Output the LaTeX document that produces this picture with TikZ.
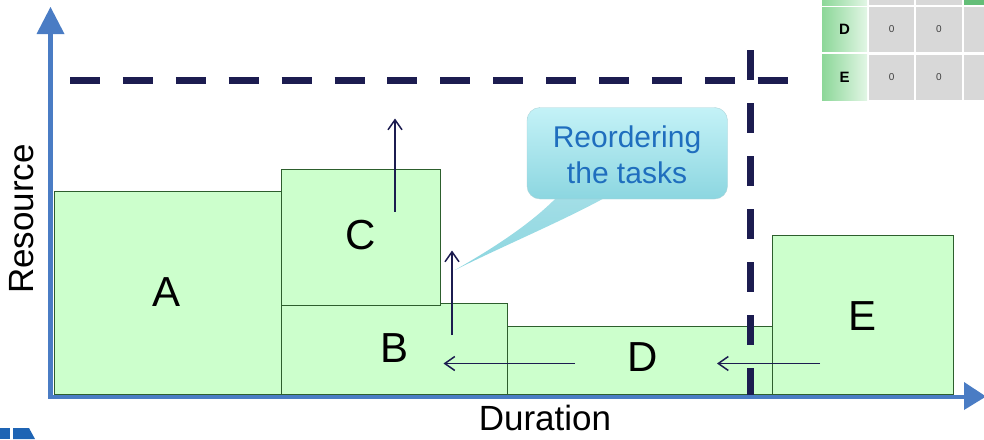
\documentclass[tikz,border=0pt]{standalone}
\usepackage{fontspec}
\setmainfont{Liberation Sans}
\usetikzlibrary{arrows.meta}
\definecolor{axisblue}{RGB}{74,124,196}
\definecolor{navy}{RGB}{28,28,80}
\definecolor{taskfill}{RGB}{204,255,204}
\definecolor{taskline}{RGB}{45,95,45}
\definecolor{calltext}{RGB}{31,110,190}
\definecolor{calltop}{RGB}{196,242,247}
\definecolor{callbot}{RGB}{140,214,224}
\definecolor{cellgray}{RGB}{216,216,216}
\definecolor{hdrgreen}{RGB}{100,190,120}
\definecolor{lblleft}{RGB}{140,215,152}
\definecolor{lblright}{RGB}{226,246,229}
\definecolor{logoblue}{RGB}{30,100,180}
\begin{document}
\begin{tikzpicture}[x=1pt,y=-1pt,
  task/.style={fill=taskfill,draw=taskline,line width=1pt},
  tasklabel/.style={inner sep=0pt,font=\fontsize{42}{42}\selectfont},
  axislabel/.style={inner sep=0pt,font=\fontsize{35}{35}\selectfont},
  limitline/.style={draw=navy,line width=7pt,dash pattern=on 30pt off 22.9pt},
  move/.style={draw=navy,line width=1.5pt,-{Straight Barb[length=10pt,width=14pt]}},
  labelcell/.style={left color=lblleft,right color=lblright},
  valcell/.style={fill=cellgray},
  rowhead/.style={inner sep=0pt,font=\fontsize{15}{15}\selectfont\bfseries},
  cellval/.style={inner sep=0pt,font=\fontsize{10}{10}\selectfont,text=black!75}]
\useasboundingbox (0,0) rectangle (984,439);

% task blocks
\path[task] (54,191) rectangle (281.5,394);
\path[task] (281.5,303.5) rectangle (507.5,394);
\path[task] (507.5,326.5) rectangle (772.5,394);
\path[task] (772.5,235.5) rectangle (953,394);
\path[task] (281.5,169.5) rectangle (440,305);

\node[tasklabel] (labA) at (167,292) {A};
\node[tasklabel] (labB) at (395,348) {B};
\node[tasklabel] (labC) at (361,235) {C};
\node[tasklabel] (labD) at (643,357) {D};
\node[tasklabel] (labE) at (862,316) {E};

% resource and deadline limits
\coordinate (limL) at (70,80.5);
\coordinate (limR) at (788,80.5);
\coordinate (dlT) at (750.5,50);
\coordinate (dlB) at (750.5,398);
\path[limitline] (limL) -- (limR);
\path[limitline,dash pattern=on 30pt off 23pt] (dlT) -- (dlB);

% axes
\coordinate (orig) at (50.5,398);
\coordinate (ytip) at (50.5,7);
\coordinate (xtip) at (986,396.5);
\draw[axisblue,line width=5pt] (50.5,398) -- (50.5,30);
\fill[axisblue] (ytip) -- (64.5,34) -- (36.5,34) -- cycle;
\draw[axisblue,line width=4pt] (48,396.5) -- (966,396.5);
\fill[axisblue] (xtip) -- (964,382) -- (964,410) -- cycle;

\node[axislabel,rotate=90] (ylab) at (22,219) {Resource};
\node[axislabel] (xlab) at (545,417.5) {Duration};

% moves of the tasks
\coordinate (c0) at (395,211.5);
\coordinate (c1) at (395,118.5);
\coordinate (b0) at (452,335);
\coordinate (b1) at (452,250.5);
\coordinate (d0) at (575,363.5);
\coordinate (d1) at (443.5,363.5);
\coordinate (e0) at (820,363.5);
\coordinate (e1) at (717,363.5);
\path[move] (c0) -- (c1);
\path[move] (b0) -- (b1);
\path[move] (d0) -- (d1);
\path[move] (e0) -- (e1);

% callout
\coordinate (tail) at (455,270);
\shade[top color=callbot!80,bottom color=callbot] (558,196) .. controls (530,225) and (490,250) .. (tail)
  .. controls (505,245) and (565,220) .. (608,196) -- cycle;
\shade[top color=calltop,bottom color=callbot,rounded corners=13pt,draw=callbot!85!black!60,line width=0.4pt]
  (527,107.5) rectangle (727.5,199);
\node[inner sep=0pt,align=center,text=calltext,font=\fontsize{30}{36}\selectfont] (note) at (627,155) {Reordering\\the tasks};

% task table corner
\begin{scope}
\clip (810,0) rectangle (984,105);
\path[labelcell] (822,-40) rectangle (867,5);
\path[valcell] (869.3,-40) rectangle (914,5);
\path[valcell] (916,-40) rectangle (962,5);
\path[fill=hdrgreen] (964,-40) rectangle (1010,5);
\path[labelcell] (822,7.3) rectangle (867,51.7);
\path[valcell] (869.3,7.3) rectangle (914,51.7);
\path[valcell] (916,7.3) rectangle (962,51.7);
\path[valcell] (964,7.3) rectangle (1010,51.7);
\path[labelcell] (822,54.7) rectangle (867,100);
\path[valcell] (869.3,54.7) rectangle (914,100);
\path[valcell] (916,54.7) rectangle (962,100);
\path[valcell] (964,54.7) rectangle (1010,100);
\node[rowhead] (rD) at (844.5,29.5) {D};
\node[rowhead] (rE) at (844.5,77.3) {E};
\node[cellval] (d1v) at (891.6,29.5) {0};
\node[cellval] (d2v) at (939,29.5) {0};
\node[cellval] (d3v) at (987,29.5) {0};
\node[cellval] (e1v) at (891.6,77.3) {0};
\node[cellval] (e2v) at (939,77.3) {0};
\node[cellval] (e3v) at (987,77.3) {0};
\end{scope}

% logo fragment
\fill[logoblue] (0,428) rectangle (10,439);
\fill[logoblue] (13,428) -- (29,428) -- (35,439) -- (13,439) -- cycle;
\end{tikzpicture}
\end{document}
